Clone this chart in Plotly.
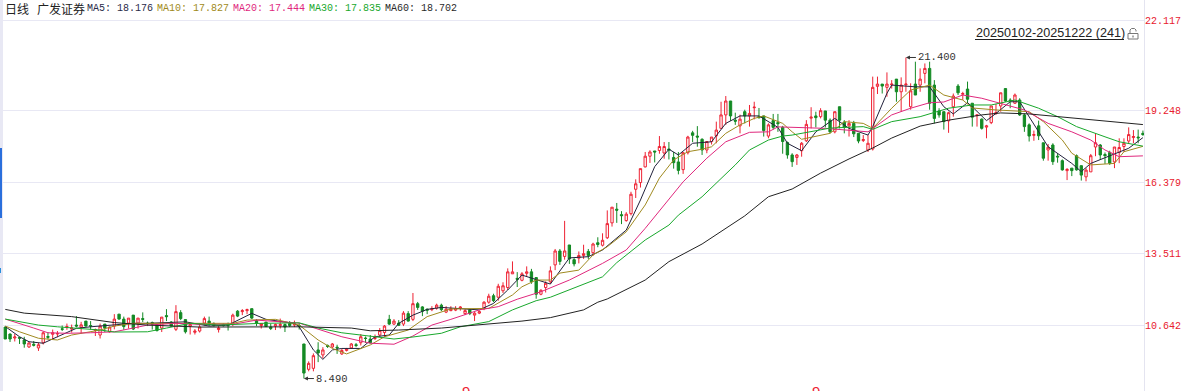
import plotly.graph_objects as go

WIDTH, HEIGHT = 1192, 391
PLOT_R = 1144

open_ = [
10.56,10.28,10.12,10.14,10.04,9.76,9.87,9.72,9.93,10.18,
10.27,10.28,10.49,10.55,10.48,10.64,10.55,10.80,10.62,10.42,
10.24,10.68,10.37,10.60,11.08,10.88,10.72,11.04,10.72,10.90,
10.72,10.74,10.64,10.52,11.02,10.76,10.47,11.14,10.86,10.60,
10.35,10.40,10.72,10.80,10.70,10.46,10.65,10.66,10.68,11.20,
11.18,11.22,11.30,10.82,10.62,10.76,10.56,10.60,10.62,10.66,
10.70,10.64,10.62,9.88,8.86,8.90,9.64,9.44,9.82,9.76,
9.75,9.48,9.62,9.72,9.85,9.93,10.12,10.08,10.10,10.24,
10.34,10.87,10.68,10.72,10.68,11.10,10.87,11.50,11.37,11.28,
11.26,11.32,11.44,11.16,11.22,11.24,11.32,11.10,11.26,11.04,
11.12,11.30,11.56,11.82,11.76,12.02,12.15,12.70,12.52,12.44,
12.72,12.78,12.55,11.88,12.15,12.38,13.06,13.62,13.40,13.86,
13.27,13.33,13.44,13.60,13.55,13.95,13.85,14.15,14.75,15.30,
15.08,14.84,15.12,16.10,16.37,17.00,17.43,17.64,17.66,17.56,
17.72,17.38,17.20,16.89,17.57,18.37,18.24,18.11,17.68,18.02,
18.25,18.55,19.09,19.65,18.88,18.65,19.22,19.05,19.38,19.02,
19.05,18.24,18.86,18.78,18.59,17.98,17.48,17.38,17.65,18.05,
18.96,19.05,19.02,19.25,18.88,18.41,19.42,18.80,18.65,18.75,
18.35,18.06,17.68,17.72,20.24,20.33,20.20,20.30,20.53,20.02,
20.30,19.42,20.33,20.29,20.76,20.96,20.29,19.25,19.22,18.85,
19.42,20.25,19.92,20.13,19.56,19.06,18.92,18.60,18.78,19.15,
19.45,20.15,19.69,19.56,19.69,19.09,18.69,18.27,18.65,17.97,
17.68,17.88,17.43,17.25,16.85,16.95,17.45,17.05,16.60,16.80,
17.80,17.88,17.50,17.58,17.20,17.58,17.82,18.04,18.18,18.20,
18.35,
]
high = [
10.56,10.30,10.28,10.17,10.17,9.95,10.00,9.92,10.38,10.35,
10.46,10.40,10.62,10.70,10.66,11.00,10.77,10.80,10.80,10.50,
10.70,10.68,10.58,11.08,11.08,10.98,10.92,11.04,10.92,11.15,
10.78,10.78,10.64,10.96,11.28,10.80,11.44,11.24,10.86,10.70,
10.48,10.70,10.98,10.98,10.75,10.60,10.70,10.74,11.10,11.24,
11.28,11.30,11.30,10.88,10.70,10.76,10.70,10.70,10.90,10.70,
10.80,10.82,10.72,9.88,9.18,9.50,9.95,9.75,9.86,9.92,
9.85,9.68,9.72,9.92,9.92,10.28,10.18,10.24,10.26,10.52,
10.64,11.05,10.88,10.84,11.20,11.20,11.93,11.57,11.40,11.30,
11.40,11.50,11.50,11.40,11.40,11.40,11.40,11.28,11.28,11.16,
11.22,11.60,11.90,11.90,12.30,12.36,12.92,13.20,12.77,12.77,
13.00,12.90,12.55,12.08,12.40,13.00,13.70,13.70,14.83,13.86,
13.33,13.60,13.87,13.70,13.95,14.17,14.33,15.25,15.38,15.55,
15.22,15.18,16.00,16.50,16.93,17.60,17.67,17.64,18.24,18.00,
18.00,17.60,17.60,17.60,18.25,18.45,18.64,18.15,18.02,18.20,
18.82,19.62,19.85,19.65,19.18,19.10,19.30,19.49,19.62,19.37,
19.05,18.75,19.13,19.13,18.65,18.02,17.55,17.52,18.00,18.88,
19.40,19.22,19.36,19.25,18.95,19.22,19.42,18.88,18.88,18.85,
18.35,18.28,18.28,20.63,20.63,20.33,20.80,20.49,20.53,20.60,
21.40,20.36,21.23,20.96,21.16,21.23,20.49,19.36,19.22,19.22,
19.95,20.33,20.02,20.43,19.56,19.09,18.95,18.69,19.45,19.53,
19.98,20.15,19.76,19.95,19.76,19.15,18.75,18.46,18.86,17.97,
17.92,17.95,17.55,17.30,16.95,16.95,17.50,17.05,16.95,17.52,
18.35,17.92,17.58,17.65,17.80,18.15,18.15,18.59,18.48,18.50,
18.46,
]
low = [
10.08,9.96,9.98,9.88,9.73,9.72,9.78,9.60,9.86,10.07,
10.08,10.15,10.40,10.45,10.34,10.55,10.30,10.58,10.46,10.20,
10.10,10.36,10.34,10.47,10.86,10.45,10.50,10.44,10.50,10.76,
10.60,10.46,10.38,10.36,10.80,10.58,10.40,10.84,10.30,10.26,
10.26,10.34,10.62,10.60,10.58,10.34,10.58,10.42,10.60,10.96,
11.04,11.08,10.88,10.60,10.50,10.56,10.44,10.44,10.50,10.36,
10.56,10.56,10.46,8.49,8.78,8.78,9.15,9.30,9.72,9.72,
9.48,9.44,9.58,9.68,9.75,9.82,9.92,9.90,10.04,10.16,
10.16,10.64,10.64,10.60,10.60,10.78,10.80,11.25,11.00,11.08,
11.20,11.26,11.20,11.12,11.20,11.20,11.22,11.04,11.04,10.80,
11.08,11.24,11.50,11.56,11.62,11.93,12.05,12.70,12.17,12.40,
12.60,12.30,11.70,11.84,11.95,12.30,12.85,13.06,13.27,13.10,
13.00,13.12,13.30,13.30,13.42,13.77,13.80,14.10,14.60,14.75,
14.70,14.80,15.05,15.75,16.17,16.98,17.16,17.18,17.53,17.33,
17.30,16.93,16.70,16.72,17.50,18.00,17.81,17.48,17.55,17.90,
17.95,18.55,18.69,18.85,18.69,18.35,18.75,18.62,18.91,18.95,
18.22,18.15,18.50,18.41,17.53,17.33,17.00,17.08,17.41,18.00,
18.55,18.59,18.95,18.59,18.35,18.35,18.55,18.35,18.22,18.20,
17.95,18.00,17.60,17.66,19.93,19.95,19.82,20.15,19.62,19.22,
20.02,19.30,19.89,20.02,20.36,19.30,18.75,18.98,18.50,18.37,
19.02,19.89,19.69,19.56,18.62,18.62,18.50,18.15,18.72,19.09,
19.22,19.62,19.36,19.53,19.05,18.41,18.02,18.05,18.08,17.25,
17.25,17.08,17.17,16.85,16.47,16.63,16.85,16.45,16.42,16.80,
17.43,17.28,17.12,17.08,16.95,17.15,17.60,17.92,17.95,17.95,
18.25,
]
close = [
10.08,10.08,10.16,10.11,9.88,9.92,9.83,9.85,10.33,10.15,
10.33,10.30,10.47,10.58,10.52,10.60,10.65,10.60,10.60,10.46,
10.60,10.52,10.56,10.88,10.88,10.58,10.92,10.48,10.92,10.87,
10.70,10.68,10.42,10.96,10.98,10.60,11.18,10.90,10.37,10.66,
10.40,10.56,10.90,10.72,10.62,10.52,10.62,10.62,11.04,11.00,
11.22,11.26,10.92,10.72,10.70,10.58,10.50,10.66,10.66,10.56,
10.62,10.68,10.60,8.71,9.10,9.41,9.52,9.64,9.78,9.88,
9.72,9.62,9.68,9.88,9.82,10.17,10.10,9.93,10.14,10.42,
10.60,10.68,10.80,10.63,11.12,10.80,11.50,11.35,11.20,11.24,
11.30,11.44,11.26,11.28,11.30,11.30,11.36,11.22,11.10,11.12,
11.18,11.56,11.80,11.62,12.20,12.22,12.78,12.78,12.48,12.70,
12.78,12.38,11.88,12.04,12.32,12.82,13.62,13.20,13.62,13.30,
13.10,13.44,13.51,13.44,13.90,13.88,14.05,14.72,15.38,15.26,
15.04,15.10,15.90,16.32,16.93,17.43,17.60,17.60,17.82,17.82,
17.68,17.17,16.86,17.57,18.20,18.27,18.20,17.68,18.02,18.20,
18.48,19.09,19.65,19.05,18.84,18.92,19.05,19.15,19.40,18.98,
18.46,18.69,18.59,18.74,18.02,17.48,17.21,17.48,17.95,18.71,
19.00,18.98,19.26,18.88,18.41,19.22,18.88,18.59,18.75,18.33,
18.04,18.10,17.95,20.20,20.33,20.25,20.33,20.33,20.02,20.29,
20.33,20.06,19.89,20.53,20.96,19.56,18.95,19.09,18.82,19.18,
19.85,19.98,19.95,19.72,19.00,19.09,18.55,18.65,19.45,19.18,
19.98,19.65,19.66,19.89,19.09,18.62,18.24,18.30,18.25,17.35,
17.79,17.21,17.40,16.88,16.90,16.85,16.88,16.67,16.87,17.45,
17.97,17.48,17.45,17.15,17.80,17.78,17.95,18.30,18.22,18.17,
18.30,
]
days = list(range(len(open_)))

ma5_x = [0,3,5,8,11,15,18,23,27,30,38,43,47,52,55,61,62,65,67,69,71,75,78,81,83,86,89,92,97,100,103,106,109,112,115,119,123,126,131,134,137,140,142,145,149,152,155,159,163,165,168,171,175,178,182,183,186,187,192,195,198,200,203,204,207,209,212,214,218,220,225,227,229,234,237,240]
ma5_y = [10.58,10.17,9.97,9.91,10.17,10.51,10.57,10.64,10.71,10.71,10.77,10.60,10.64,11.11,10.87,10.71,10.57,9.64,9.26,9.64,9.70,9.70,10.17,10.24,10.71,11.04,11.27,11.35,11.27,11.25,11.51,12.05,12.65,12.48,12.29,13.34,13.39,13.66,14.46,15.67,17.01,17.71,17.48,17.95,18.01,18.75,19.05,19.05,18.59,17.95,17.65,18.41,18.95,18.55,18.28,18.62,19.96,20.29,20.22,20.22,19.42,19.13,19.58,19.42,18.86,19.15,19.62,19.62,18.41,17.81,17.14,16.81,17.14,17.52,17.75,18.176]

ma10_x = [0,3,7,11,14,20,23,27,36,41,48,51,57,62,66,69,72,77,80,85,89,94,100,102,107,109,112,115,117,121,124,127,131,135,138,141,144,147,149,152,155,158,160,164,166,168,174,177,181,183,187,191,195,198,202,204,209,216,219,223,225,229,234,236,240]
ma10_y = [10.60,10.37,10.11,10.04,10.24,10.44,10.60,10.71,10.71,10.71,10.71,10.84,10.87,10.64,10.04,9.70,9.48,9.84,10.17,10.44,10.98,11.29,11.29,11.31,11.85,12.18,12.45,12.45,12.73,12.85,13.46,13.79,14.39,15.47,16.55,17.28,17.61,17.71,17.81,18.35,18.69,18.95,19.05,18.75,18.41,18.11,18.35,18.82,18.75,18.55,19.36,20.09,20.29,19.89,19.69,19.37,19.29,19.22,18.82,18.08,17.55,17.08,17.14,17.61,17.827]

ma20_x = [0,3,6,9,13,18,23,27,30,36,41,48,53,62,67,71,77,82,86,90,94,100,104,108,113,119,126,131,135,139,143,148,152,157,161,163,166,173,182,187,191,195,198,202,206,211,215,220,225,229,232,235,240]
ma20_y = [10.88,10.71,10.52,10.33,10.31,10.33,10.37,10.52,10.64,10.71,10.67,10.67,10.84,10.72,10.41,10.17,9.91,9.87,10.20,10.64,10.87,11.25,11.38,11.68,11.98,12.45,13.12,13.66,14.53,15.47,16.40,17.35,18.01,18.39,18.41,18.61,18.59,18.55,18.41,19.09,19.36,19.58,19.61,19.89,19.76,19.49,19.29,18.75,18.41,18.08,17.68,17.41,17.444]

ma30_x = [0,3,7,11,20,23,30,34,39,45,54,62,66,71,77,82,86,92,96,102,107,112,115,119,126,129,135,140,142,147,150,154,157,161,164,166,174,181,183,187,193,199,204,208,213,218,222,226,232,235,240]
ma30_y = [10.88,10.77,10.64,10.57,10.44,10.36,10.37,10.52,10.71,10.64,10.71,10.73,10.52,10.33,10.20,10.08,10.16,10.31,10.57,10.78,11.25,11.62,11.76,12.05,12.58,13.15,14.06,14.66,15.06,15.80,16.34,17.08,17.68,18.08,18.24,18.28,18.56,18.62,18.51,18.82,19.02,19.36,19.49,19.49,19.69,19.36,19.02,18.62,18.21,18.01,17.835]

ma60_x = [0,4,14,20,23,30,41,62,73,77,83,92,100,109,115,122,125,127,135,140,147,156,161,166,172,178,183,187,193,199,206,210,216,223,231,240]
ma60_y = [11.27,11.12,10.98,10.84,10.74,10.64,10.56,10.57,10.52,10.41,10.44,10.52,10.64,10.80,10.94,11.25,11.56,11.69,12.45,13.19,13.90,15.03,15.80,16.11,16.75,17.32,17.76,18.16,18.64,18.88,19.09,19.17,19.13,19.01,18.86,18.702]

axis_tick_vals = [22.907, 19.248, 16.379, 13.511, 10.642]
axis_tick_text = ["22.117", "19.248", "16.379", "13.511", "10.642"]

header = [("MA5: 18.176", "#2a2a48", 85), ("MA10: 17.827", "#a08a20", 155),
          ("MA20: 17.444", "#e0287d", 231), ("MA30: 17.835", "#18a82c", 307), ("MA60: 18.702", "#2a2a2a", 383)]

RED = "#ee2233"
GREEN = "#138a24"
MONO = "Liberation Mono"

def px(v): return v / PLOT_R
def py(v): return 1 - v / HEIGHT

fig = go.Figure()
fig.add_trace(go.Candlestick(
    x=days, open=open_, high=high, low=low, close=close, whiskerwidth=0,
    increasing=dict(line=dict(color=RED, width=1), fillcolor="#ffffff"),
    decreasing=dict(line=dict(color=GREEN, width=1), fillcolor=GREEN),
    showlegend=False))
for xs, ys, col in [(ma5_x, ma5_y, "#22223c"), (ma10_x, ma10_y, "#a08a20"),
                    (ma20_x, ma20_y, "#e0287d"), (ma30_x, ma30_y, "#18a82c"), (ma60_x, ma60_y, "#222222")]:
    fig.add_trace(go.Scatter(x=xs, y=ys, mode="lines", line=dict(color=col, width=1), showlegend=False, hoverinfo="skip"))

ann = [
    dict(text="日线", x=px(3), y=py(9), font=dict(family="Noto Sans CJK SC", size=12, color="#222")),
    dict(text="广发证券", x=px(35), y=py(9), font=dict(family="Noto Sans CJK SC", size=12, color="#222")),
    dict(text="20250102-20251222 (241)", x=px(974), y=py(33), font=dict(family="Liberation Sans", size=12.6, color="#222")),
    dict(text="9", x=px(460), y=py(391), font=dict(family="Liberation Sans", size=15, color=RED)),
    dict(text="9", x=px(810), y=py(391), font=dict(family="Liberation Sans", size=15, color=RED)),
]
for t, c, x0 in header:
    ann.append(dict(text=t, x=px(x0), y=py(9), font=dict(family=MONO, size=10, color=c)))
for a in ann:
    a.update(xref="paper", yref="paper", xanchor="left", yanchor="middle", showarrow=False)
for v, off, idx in [(21.4, 10, 190), (8.49, 10, 63)]:
    ann.append(dict(text=f"{v:.3f}", x=idx, y=v, xref="x", yref="y", showarrow=True, arrowhead=2, arrowsize=0.8,
                    arrowwidth=1, arrowcolor="#333", ax=off, ay=0, xanchor="left", yanchor="middle",
                    font=dict(family=MONO, size=10.5, color="#333")))

shapes = [
    dict(type="line", xref="paper", yref="paper", x0=px(975), x1=px(1124), y0=py(39.5), y1=py(39.5), line=dict(color="#222", width=1)),
    dict(type="rect", xref="paper", yref="paper", x0=px(1128), x1=px(1138), y0=py(33.5), y1=py(39), line=dict(color="#777", width=1), fillcolor="#fff"),
    dict(type="path", xref="paper", yref="paper",
         path=f"M {px(1130)} {py(33.5)} L {px(1130)} {py(30)} L {px(1131.5)} {py(28.5)} L {px(1134.5)} {py(28.5)} L {px(1136)} {py(30)} L {px(1136)} {py(31.5)}",
         line=dict(color="#777", width=1)),
    dict(type="line", xref="paper", yref="paper", x0=px(1133), x1=px(1133), y0=py(35.5), y1=py(37.5), line=dict(color="#555", width=1)),
    dict(type="rect", xref="paper", yref="paper", x0=0, x1=px(3), y0=0, y1=1, line=dict(width=0), fillcolor="#e8e8f4"),
    dict(type="rect", xref="paper", yref="paper", x0=0, x1=px(2), y0=py(218), y1=py(148), line=dict(width=0), fillcolor="#2a6fdc"),
    dict(type="rect", xref="paper", yref="paper", x0=0, x1=px(1), y0=py(273), y1=py(268), line=dict(width=0), fillcolor="#2a8fdc"),
]

fig.update_layout(
    width=WIDTH, height=HEIGHT, margin=dict(l=0, r=WIDTH - PLOT_R, t=0, b=0),
    paper_bgcolor="#fff", plot_bgcolor="#fff", annotations=ann, shapes=shapes,
    xaxis=dict(range=[-1.118, 240.23], visible=False, rangeslider=dict(visible=False), fixedrange=True),
    yaxis=dict(range=[7.989, 23.711], side="right", tickvals=axis_tick_vals, ticktext=axis_tick_text,
               tickfont=dict(family=MONO, size=10, color="#e8202e"), gridcolor="#e8e8f4", gridwidth=1, ticklabelstandoff=-2,
               showline=True, linecolor="#e4e4f0", linewidth=1, zeroline=False, ticks="", fixedrange=True),
)
fig.write_html("out.html", config=dict(displayModeBar=False),
               post_script="document.body.style.margin='0';document.body.style.overflow='hidden';")
